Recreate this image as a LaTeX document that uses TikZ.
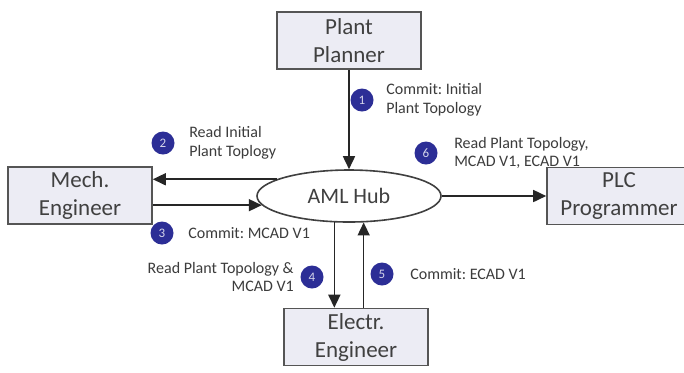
\documentclass[tikz,border=0pt]{standalone}
\usepackage{fontspec}
\setmainfont{Carlito}
\usetikzlibrary{arrows.meta,positioning,shapes.geometric}
\definecolor{boxfill}{RGB}{236,236,244}
\definecolor{boxline}{RGB}{85,85,85}
\definecolor{stepblue}{RGB}{44,46,150}
\definecolor{notegray}{RGB}{60,60,60}
\tikzset{
  role/.style={
    draw=boxline,
    line width=0.8pt,
    fill=boxfill,
    minimum width=72pt,
    minimum height=28.5pt,
    align=center,
    inner sep=1pt,
    text=black!75,
    font=\fontsize{11.5}{14}\selectfont
  },
  store/.style={
    draw=black!75,
    ellipse,
    line width=0.8pt,
    fill=white,
    minimum width=92pt,
    minimum height=26pt,
    inner sep=0pt,
    text=black!75,
    font=\fontsize{11}{13}\selectfont
  },
  stepnum/.style={
    circle,
    fill=stepblue,
    minimum size=11.5pt,
    inner sep=0pt,
    text=white!80!stepblue,
    font=\fontsize{6.5}{7}\selectfont
  },
  note/.style={
    align=left,
    inner sep=0pt,
    text=notegray,
    font=\fontsize{8}{9.2}\selectfont\frenchspacing
  },
  flow/.style={-{Triangle[length=6.5pt,width=6pt]}, line width=0.8pt, draw=black!85}
}

\begin{document}
\begin{tikzpicture}[x=0.5pt, y=-0.5pt]
  \path[use as bounding box, fill=white] (0,0) rectangle (684,372);

  \node[role] (planner) at (349,40.5) {Plant\\Planner};
  \node[role] (mech) at (80,195.5) {Mech.\\Engineer};
  \node[role] (plc) at (619,196) {PLC\\Programmer};
  \node[role] (electr) at (356,337) {Electr.\\Engineer};
  \node[store] (hub) at (349,196) {AML Hub};

  \draw[flow] (planner) -- (hub);
  \draw[flow] (hub.167.5) -- (hub.167.5 -| mech.east);
  \draw[flow] (hub.186 -| mech.east) -- (hub.186);
  \draw[flow] (hub) -- (plc);
  \draw[flow] (hub.241) -- (hub.241 |- electr.north);
  \draw[flow] (hub.299 |- electr.north) -- (hub.299);

  % numbered steps
  \node[stepnum] (c1) at (362,100) {1};
  \node[note, right=6pt of c1] (n1) {Commit: Initial\\Plant Topology};
  \node[stepnum] (c2) at (163,143) {2};
  \node[note, right=7pt of c2] (n2) {Read Initial\\Plant Toplogy};
  \node[stepnum] (c3) at (162,233) {3};
  \node[note, right=7pt of c3] (n3) {Commit: MCAD V1};
  \node[stepnum] (c4) at (312,277) {4};
  \node[note, align=right, left=3pt of c4] (n4) {Read Plant Topology \&\\MCAD V1};
  \node[stepnum] (c5) at (382,274) {5};
  \node[note, right=8pt of c5] (n5) {Commit: ECAD V1};
  \node[stepnum] (c6) at (426,153) {6};
  \node[note, right=8pt of c6] (n6) {Read Plant Topology,\\MCAD V1, ECAD V1};
\end{tikzpicture}
\end{document}
